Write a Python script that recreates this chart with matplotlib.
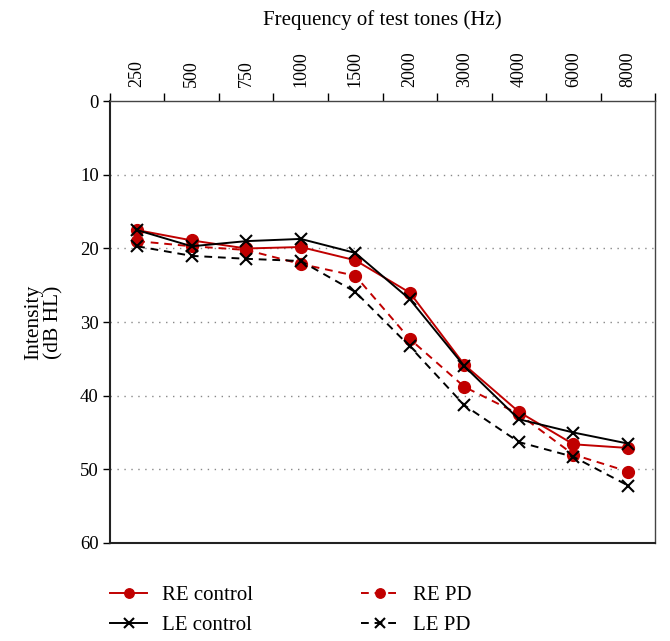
import matplotlib
matplotlib.use("Agg")
import matplotlib.pyplot as plt
import numpy as np

plt.rcParams["font.family"] = ["Liberation Serif", "DejaVu Serif"]

freqs = ["250", "500", "750", "1000", "1500", "2000", "3000", "4000", "6000", "8000"]
re_control = [17.5, 18.9, 20.0, 19.8, 21.6, 26.0, 35.8, 42.2, 46.6, 47.1]
le_control = [17.5, 19.7, 19.0, 18.7, 20.6, 26.9, 36.0, 43.2, 45.0, 46.5]
re_pd = [19.0, 19.7, 20.2, 22.1, 23.7, 32.3, 38.8, 42.5, 48.0, 50.3]
le_pd = [19.7, 21.0, 21.4, 21.7, 25.9, 33.3, 41.3, 46.3, 48.3, 52.2]

RED = "#c00000"

fig = plt.figure(figsize=(6.7, 6.41), dpi=100)
ax = fig.add_axes([0.164, 0.153, 0.814, 0.689])
x = np.arange(len(freqs))

ax.plot(x, re_control, color=RED, lw=1.4, marker="o", ms=8.5, label="RE control")
ax.plot(x, re_pd, color=RED, lw=1.4, ls=(0, (4, 3)), marker="o", ms=8.5, label="RE PD")
ax.plot(x, le_control, color="black", lw=1.4, marker="x", ms=9, mew=1.5, label="LE control")
ax.plot(x, le_pd, color="black", lw=1.4, ls=(0, (4, 3)), marker="x", ms=9, mew=1.5, label="LE PD")

ax.set_xlim(-0.5, len(freqs) - 0.5)
ax.set_ylim(60, 0)
ax.set_yticks(range(0, 61, 10))
for yv in range(10, 60, 10):
    ax.axhline(yv, color="#888888", lw=1.0, ls=(0, (1, 4)), zorder=0)

ax.xaxis.tick_top()
ax.xaxis.set_label_position("top")
ax.set_xticks(x)
ax.set_xticklabels(freqs, rotation=90, fontsize=13)
ax.set_xticks(np.arange(-0.5, len(freqs)), minor=True)
ax.tick_params(axis="x", which="major", length=0, pad=10)
ax.tick_params(axis="x", which="minor", length=6, width=1, direction="out", top=True, bottom=False)
ax.tick_params(axis="y", labelsize=13.5, length=5, width=1, direction="out", pad=3)
ax.set_xlabel("Frequency of test tones (Hz)", fontsize=15, labelpad=19)
ax.set_ylabel("Intensity\n(dB HL)", fontsize=15.5, labelpad=12, linespacing=1.1)

for s in ["left", "bottom"]:
    ax.spines[s].set_linewidth(1.5)
    ax.spines[s].set_color("#222222")
for s in ["top", "right"]:
    ax.spines[s].set_linewidth(1.0)
    ax.spines[s].set_color("#444444")

handles, labels = ax.get_legend_handles_labels()
order = [0, 2, 1, 3]
fig.legend([handles[i] for i in order], [labels[i] for i in order],
           loc="upper left", bbox_to_anchor=(0.164, 0.086), ncol=2, frameon=False,
           borderpad=0, borderaxespad=0, fontsize=15, handlelength=1.8,
           handletextpad=0.7, columnspacing=5.2, labelspacing=0.5, markerscale=0.8)

fig.savefig("out.png", dpi=100)
